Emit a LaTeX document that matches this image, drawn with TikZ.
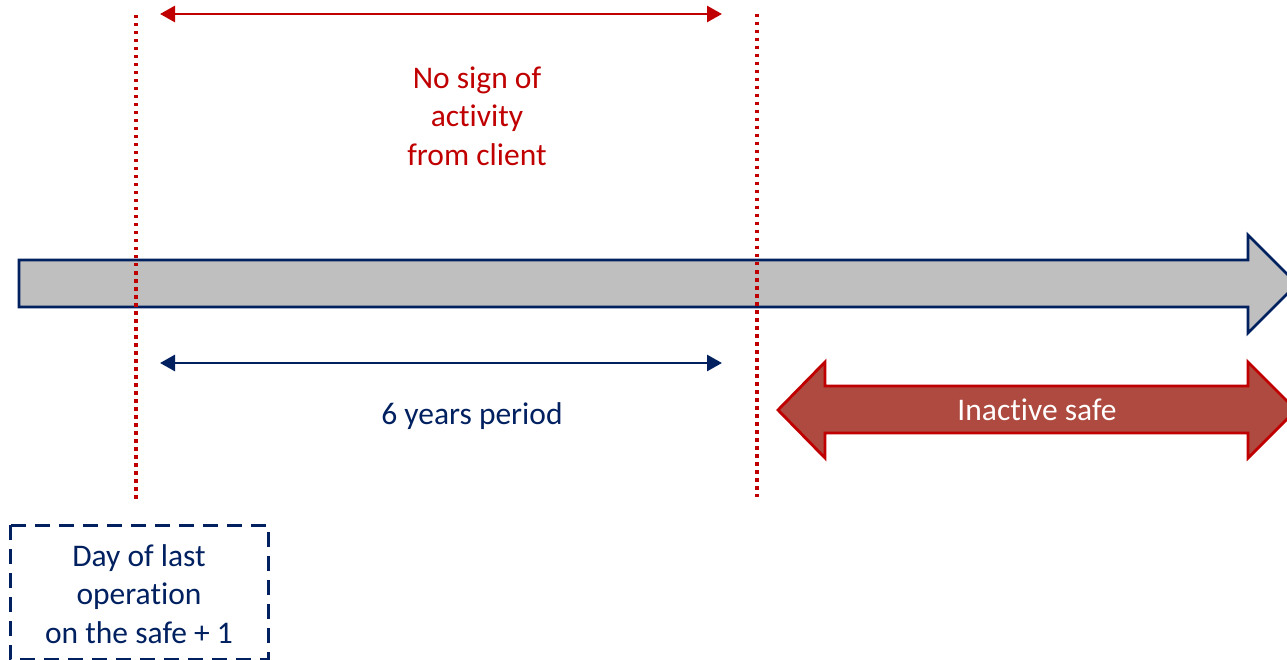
\documentclass[tikz,border=0pt]{standalone}
\usepackage{fontspec}
\setmainfont[Ligatures={NoCommon}]{Carlito}
\usetikzlibrary{arrows.meta}
\definecolor{navy}{HTML}{002060}
\definecolor{darkred}{HTML}{C00000}
\definecolor{shaftgray}{HTML}{BFBFBF}
\definecolor{brick}{HTML}{AE4A3F}
\tikzset{
  label text/.style={font=\fontsize{31.5}{38.5}\selectfont, align=center, inner sep=0pt},
  marker line/.style={darkred, line width=3.5pt, dash pattern=on 3.5pt off 4.5pt},
  span arrow/.style={line width=2.8pt, {Triangle[length=15pt,width=16pt]}-{Triangle[length=15pt,width=16pt]}},
}
\begin{document}
\begin{tikzpicture}[x=1pt,y=-1pt]
\useasboundingbox (0,0) rectangle (1287,660);
\clip (0,0) rectangle (1287,660);

% time line
\draw[navy, line width=2.8pt, fill=shaftgray, line join=miter]
  (19,260) -- (1248,260) -- (1248,235) -- (1297,284) -- (1248,333)
  -- (1248,307) -- (19,307) -- cycle;

% inactive period
\draw[darkred, line width=2.8pt, fill=brick, line join=miter]
  (778,410) -- (825,362) -- (825,386) -- (1248,386) -- (1248,362)
  -- (1296,410) -- (1248,458) -- (1248,433) -- (825,433) -- (825,458) -- cycle;
\node[label text, text=white] (inactive) at (1037,410) {Inactive safe};

% start and end markers
\coordinate (startTop) at (136,15);
\coordinate (startBot) at (136,503);
\coordinate (endTop) at (757,14);
\coordinate (endBot) at (757,497);
\draw[marker line] (startTop) -- (startBot);
\draw[marker line] (endTop) -- (endBot);

% spans
\coordinate (noActL) at (160,14);
\coordinate (noActR) at (722,14);
\draw[span arrow, darkred] (noActL) -- (noActR);
\node[label text, text=darkred] (noact) at (477,116) {No sign of\\activity\\from client};

\coordinate (periodL) at (160,363);
\coordinate (periodR) at (722,363);
\draw[span arrow, navy] (periodL) -- (periodR);
\node[label text, text=navy] (period) at (472,416) {6 years period};

% starting day
\draw[navy, line width=3pt, dash pattern=on 15pt off 9pt]
  (10,525) rectangle (268,659);
\node[label text, text=navy] (lastday) at (139,594) {Day of last\\operation\\on the safe + 1};
\end{tikzpicture}
\end{document}
